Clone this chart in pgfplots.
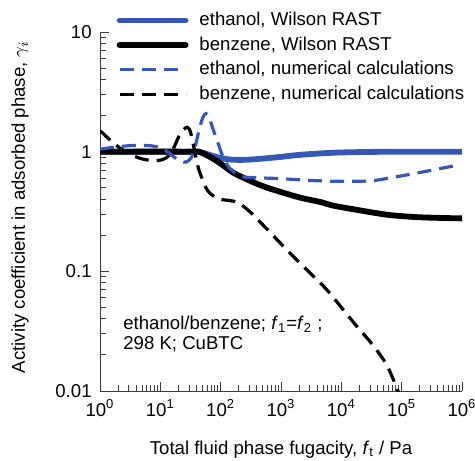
\documentclass[border=0pt]{standalone}
\usepackage{fontspec}
\setmainfont{Liberation Sans}
\usepackage{pgfplots}
\pgfplotsset{compat=1.18}
\definecolor{wblue}{RGB}{55,87,180}
\definecolor{axgray}{RGB}{60,60,60}

\begin{document}
\fontsize{9.3bp}{11bp}\selectfont
\begin{tikzpicture}
\begin{axis}[
  at={(0,0)}, anchor=south west,
  scale only axis, width=181bp, height=179.5bp,
  xmode=log, ymode=log,
  xmin=1, xmax=1e6, ymin=0.01, ymax=10,
  axis lines=left,
  axis line style={-, line width=0.5bp, draw=axgray},
  tick align=inside,
  tick style={line width=0.5bp, draw=axgray},
  major tick length=4.5bp, minor tick length=3bp,
  xtick={1,10,100,1000,10000,100000,1000000},
  xticklabels={10\textsuperscript{0},10\textsuperscript{1},10\textsuperscript{2},10\textsuperscript{3},10\textsuperscript{4},10\textsuperscript{5},10\textsuperscript{6}},
  minor xtick={2,3,4,5,6,7,8,9,20,30,40,50,60,70,80,90,200,300,400,500,600,700,800,900,2000,3000,4000,5000,6000,7000,8000,9000,20000,30000,40000,50000,60000,70000,80000,90000,200000,300000,400000,500000,600000,700000,800000,900000},
  ytick={0.01,0.1,1,10},
  yticklabels={0.01,0.1,1,10},
  minor ytick={0.02,0.03,0.04,0.05,0.06,0.07,0.08,0.09,0.2,0.3,0.4,0.5,0.6,0.7,0.8,0.9,2,3,4,5,6,7,8,9},
  xticklabel style={anchor=base, inner sep=0pt, yshift=-12.75bp},
  yticklabel style={anchor=east, inner sep=0pt, xshift=-4bp},
  xlabel={Total fluid phase fugacity, \textit{f}\textsubscript{t} / Pa},
  ylabel={Activity coefficient in adsorbed phase, $\gamma_i$},
  xlabel style={at={(axis description cs:0.5,-0.164)}, anchor=center, inner sep=0pt},
  ylabel style={at={(axis description cs:-0.221,0.5125)}, anchor=center, inner sep=0pt},
  legend cell align=left,
  legend image code/.code={\draw[#1] (0bp,0bp) -- (33bp,0bp);},
  legend style={at={(axis description cs:0.045,1.058)}, anchor=north west,
    draw=none, fill=none, inner sep=0pt, column sep=5.5bp, row sep=3.3bp,
    nodes={inner sep=0pt, text height=7bp, text depth=2bp}},
  solidline/.style={line width=2.9bp, line cap=round, smooth},
  dashline/.style={line width=1.6bp, dash pattern=on 7bp off 4bp, smooth},
]
% ethanol, Wilson RAST
\addplot[solidline, wblue] coordinates {
 (1,1) (20,1) (35,1) (50,0.98) (70,0.93) (100,0.885) (150,0.858) (250,0.855)
 (500,0.875) (1000,0.905) (2000,0.94) (5000,0.97) (10000,0.985) (30000,0.995)
 (100000,1) (1000000,1)};
\addlegendentry{ethanol, Wilson RAST}
% benzene, Wilson RAST
\addplot[solidline, black] coordinates {
 (1,1) (30,1) (46,0.99) (85,0.84) (160,0.67) (310,0.57) (590,0.50) (2000,0.415)
 (4470,0.38) (7200,0.355) (16000,0.33) (58000,0.297) (200000,0.283) (1000000,0.277)};
\addlegendentry{benzene, Wilson RAST}
% ethanol, numerical calculations
\addplot[dashline, wblue] coordinates {
 (1,1.05) (2,1.1) (4,1.13) (7,1.12) (10,1.08) (13,1.0) (17,0.9) (22,0.83) (27,0.82)
 (32,0.88) (37,1.05) (43,1.45) (50,1.9) (57,2.08) (66,1.85) (78,1.45) (92,1.15)
 (105,0.95) (120,0.82) (140,0.73) (180,0.655) (235,0.615) (400,0.605) (1000,0.595)
 (3000,0.575) (10000,0.565) (30000,0.57) (60000,0.6) (200000,0.67) (830000,0.77)};
\addlegendentry{ethanol, numerical calculations}
% benzene, numerical calculations
\addplot[dashline, black] coordinates {
 (1,1.5) (1.4,1.28) (2,1.1) (3,0.96) (5,0.87) (8,0.84) (11,0.86) (14,0.93) (17,1.1)
 (20,1.32) (24,1.52) (28,1.6) (31,1.5) (34,1.25) (38,0.95) (43,0.72) (49,0.6)
 (57,0.5) (66,0.45) (80,0.42) (100,0.40) (140,0.39) (195,0.375) (316,0.31)
 (562,0.23) (1000,0.17) (1778,0.126) (3162,0.095) (5623,0.071) (10000,0.050)
 (17783,0.035) (31623,0.025) (56234,0.0166) (87100,0.01) (100000,0.0085)};
\addlegendentry{benzene, numerical calculations}
\node[anchor=base west, inner sep=0pt] at (axis description cs:0.0635,0.1708)
  {ethanol/benzene; \textit{f}\textsubscript{1}=\textit{f}\textsubscript{2} ;};
\node[anchor=base west, inner sep=0pt] at (axis description cs:0.0635,0.115)
  {298 K; CuBTC};
\end{axis}
\pgfresetboundingbox
\path[use as bounding box] (-50bp,-35bp) rectangle (187.5bp,195.5bp);
\end{tikzpicture}
\end{document}
